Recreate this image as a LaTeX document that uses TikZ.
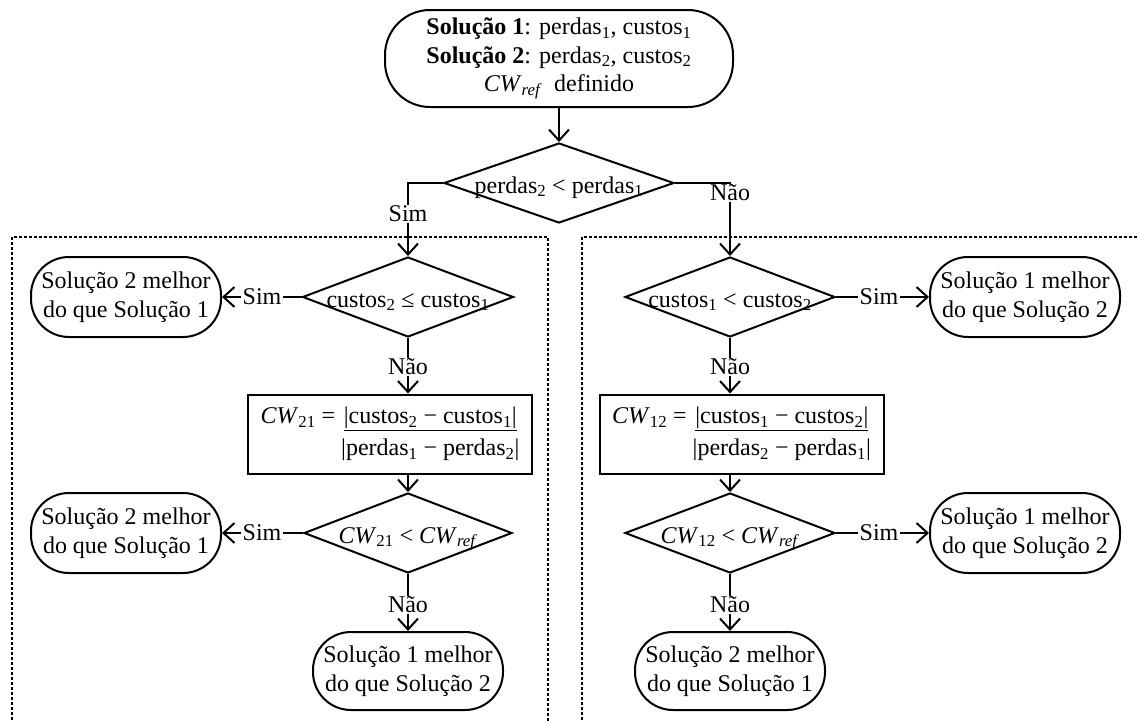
\documentclass[tikz,border=0pt]{standalone}
\usepackage{fontspec}
\setmainfont{Liberation Serif}
\usetikzlibrary{shapes.geometric,arrows.meta}
\newcommand\mydtext[1]{\raisebox{-10pt}[0pt][0pt]{\makebox[0pt]{#1}}}
\begin{document}
\begin{tikzpicture}[x=1pt,y=-1pt,
  font=\fontsize{24pt}{28.5pt}\selectfont,
  line width=2pt,
  term/.style={draw, rounded corners=38pt, minimum width=190pt, minimum height=80pt, inner sep=0pt, align=center},
  dec/.style={draw, diamond, inner sep=0pt, minimum height=80pt},
  proc/.style={draw, minimum width=284pt, minimum height=79pt, inner sep=0pt},
  lab/.style={fill=white, inner xsep=2pt, inner ysep=0.5pt},
  arr/.style={-{Straight Barb[length=11pt,width=20pt]}},
  zone/.style={line width=1.4pt, dash pattern=on 3pt off 2pt}]
\useasboundingbox (0,0) rectangle (1137,720);
\clip (0,0) rectangle (1137,720);
% dotted zones
\draw[zone] (12,730) -- (12,237) -- (548,237) -- (548,730);
\draw[zone] (582,730) -- (582,237) -- (1150,237);
% top
\node[term, minimum width=348pt, minimum height=97pt, rounded corners=45pt] (start) at (559,58.5)
  {\textbf{Solução 1}: perdas\textsubscript{1}, custos\textsubscript{1}\\
   \textbf{Solução 2}: perdas\textsubscript{2}, custos\textsubscript{2}\\
   \textit{CW}\textsubscript{\textit{ref}}\ \ definido};
\node[dec, minimum width=230pt] (d1) at (559,183) {\mydtext{perdas\textsubscript{2} < perdas\textsubscript{1}}};
% left column
\node[dec, minimum width=211pt] (dL1) at (408,297) {\mydtext{custos\textsubscript{2} ≤ custos\textsubscript{1}}};
\node[term] (tL1) at (126,297) {Solução 2 melhor\\do que Solução 1};
\node[proc] (pL) at (390,434) {\textit{CW}\textsubscript{21} = \begin{tabular}[t]{@{}c@{}}\underline{|custos\textsubscript{2} − custos\textsubscript{1}|}\\[3pt] |perdas\textsubscript{1} − perdas\textsubscript{2}|\end{tabular}};
\node[dec, minimum width=208pt] (dL2) at (408,533) {\mydtext{\textit{CW}\textsubscript{21} < \textit{CW}\textsubscript{\textit{ref}}}};
\node[term] (tL2) at (126,533) {Solução 2 melhor\\do que Solução 1};
\node[term, minimum height=78pt] (tL3) at (408,671) {Solução 1 melhor\\do que Solução 2};
% right column
\node[dec, minimum width=210pt] (dR1) at (730,297) {\mydtext{custos\textsubscript{1} < custos\textsubscript{2}}};
\node[term] (tR1) at (1025,297) {Solução 1 melhor\\do que Solução 2};
\node[proc] (pR) at (741.5,434) {\textit{CW}\textsubscript{12} = \begin{tabular}[t]{@{}c@{}}\underline{|custos\textsubscript{1} − custos\textsubscript{2}|}\\[3pt] |perdas\textsubscript{2} − perdas\textsubscript{1}|\end{tabular}};
\node[dec, minimum width=210pt] (dR2) at (730,533) {\mydtext{\textit{CW}\textsubscript{12} < \textit{CW}\textsubscript{\textit{ref}}}};
\node[term] (tR2) at (1025,533) {Solução 1 melhor\\do que Solução 2};
\node[term, minimum height=78pt] (tR3) at (730,671) {Solução 2 melhor\\do que Solução 1};
% connectors
\draw[arr] (start.south) -- (d1.north);
\draw[arr] (d1.west) -| (dL1.north);
\draw[arr] (d1.east) -| (dR1.north);
\draw[arr] (dL1.west) -- (tL1.east);
\draw[arr] (dL1.south) -- (dL1.south |- pL.north);
\draw[arr] (pL.south -| dL2.north) -- (dL2.north);
\draw[arr] (dL2.west) -- (tL2.east);
\draw[arr] (dL2.south) -- (tL3.north);
\draw[arr] (dR1.east) -- (tR1.west);
\draw[arr] (dR1.south) -- (dR1.south |- pR.north);
\draw[arr] (pR.south -| dR2.north) -- (dR2.north);
\draw[arr] (dR2.east) -- (tR2.west);
\draw[arr] (dR2.south) -- (tR3.north);
% labels
\node[lab] (s0) at (408,214) {Sim};
\node[lab] (n0) at (730,193) {Não};
\node[lab] (s1) at (262,297) {Sim};
\node[lab] (n1) at (408,367) {Não};
\node[lab] (s2) at (262,533) {Sim};
\node[lab] (n2) at (408,605) {Não};
\node[lab] (s3) at (879,297) {Sim};
\node[lab] (n3) at (730,367) {Não};
\node[lab] (s4) at (879,533) {Sim};
\node[lab] (n4) at (730,605) {Não};
\end{tikzpicture}
\end{document}
